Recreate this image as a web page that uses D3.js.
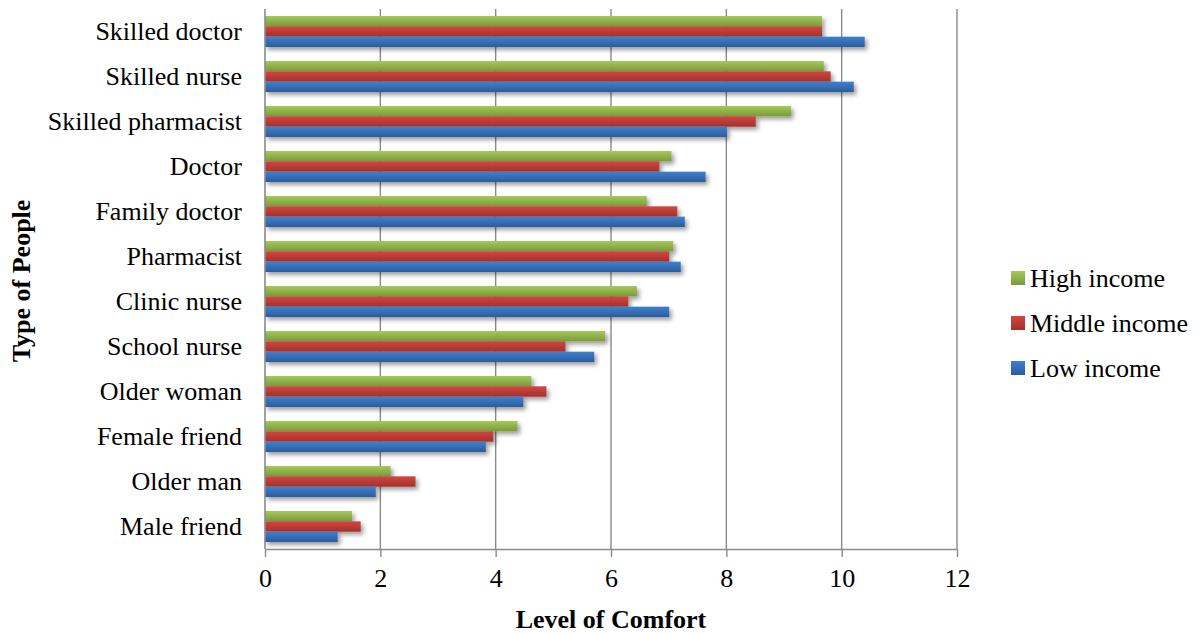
<!DOCTYPE html>
<html>
<head>
<meta charset="utf-8">
<script src="https://cdn.jsdelivr.net/npm/d3@7"></script>
<style>
  html, body { margin: 0; padding: 0; background: #fff; }
  svg { display: block; }
  svg text { font-family: "Liberation Serif", "Times New Roman", serif !important; fill: #000; }
</style>
</head>
<body>
<svg id="chart" width="1202" height="633"></svg>
<script>
// Categories listed top to bottom
const categories = [
  "Skilled doctor", "Skilled nurse", "Skilled pharmacist", "Doctor",
  "Family doctor", "Pharmacist", "Clinic nurse", "School nurse",
  "Older woman", "Female friend", "Older man", "Male friend"
];
const seriesNames = ["High income", "Middle income", "Low income"];
const highIncome   = [9.66, 9.69, 9.12, 7.05, 6.62, 7.08, 6.45, 5.90, 4.62, 4.38, 2.18, 1.51];
const middleIncome = [9.66, 9.81, 8.51, 6.84, 7.15, 7.01, 6.30, 5.21, 4.88, 3.96, 2.61, 1.66];
const lowIncome    = [10.40, 10.21, 8.01, 7.64, 7.28, 7.21, 7.01, 5.71, 4.48, 3.83, 1.92, 1.26];
const xTicks = [0, 2, 4, 6, 8, 10, 12];

const seriesValues = [highIncome, middleIncome, lowIncome];
const gradIds = ["gHigh", "gMid", "gLow"];
const gradStops = [
  ["#a4c95a", "#7b9a3c"],
  ["#d3463f", "#a3302c"],
  ["#3f80cf", "#2b5c9b"]
];
const serif = "'Liberation Serif', 'Times New Roman', serif";

const svg = d3.select("#chart");
const defs = svg.append("defs");
gradIds.forEach((id, i) => {
  const g = defs.append("linearGradient").attr("id", id)
    .attr("x1", 0).attr("y1", 0).attr("x2", 0).attr("y2", 1);
  g.append("stop").attr("offset", "0%").attr("stop-color", gradStops[i][0]);
  g.append("stop").attr("offset", "100%").attr("stop-color", gradStops[i][1]);
});
const shadow = defs.append("filter").attr("id", "shadow")
  .attr("x", "-5%").attr("y", "-40%").attr("width", "115%").attr("height", "200%");
shadow.append("feDropShadow").attr("dx", 2.5).attr("dy", 3).attr("stdDeviation", 2)
  .attr("flood-color", "#000").attr("flood-opacity", 0.38);

const plot = { left: 265, right: 957, top: 9, bottom: 549 };

const x = d3.scaleLinear().domain([0, 12]).range([plot.left, plot.right]);
const y = d3.scaleBand().domain(categories).range([plot.top, plot.bottom])
  .paddingInner(0.311).paddingOuter(0.1555);
const ySub = d3.scaleBand().domain(seriesNames).range([0, y.bandwidth()]);

// vertical gridlines
svg.append("g").selectAll("line").data(xTicks.slice(1)).join("line")
  .attr("x1", d => x(d)).attr("x2", d => x(d))
  .attr("y1", plot.top).attr("y2", plot.bottom)
  .attr("stroke", "#8a8a8a").attr("stroke-width", 1.4);

// bars
const groups = svg.append("g").selectAll("g").data(categories).join("g")
  .attr("transform", c => `translate(0,${y(c)})`);
groups.selectAll("rect")
  .data((c, ci) => seriesNames.map((s, si) => ({ s, si, v: seriesValues[si][ci] })))
  .join("rect")
  .attr("x", x(0))
  .attr("y", d => ySub(d.s))
  .attr("width", d => x(d.v) - x(0))
  .attr("height", ySub.bandwidth())
  .attr("fill", d => `url(#${gradIds[d.si]})`)
  .attr("filter", "url(#shadow)");

// x axis
const xAxis = svg.append("g").attr("transform", `translate(0,${plot.bottom})`)
  .call(d3.axisBottom(x).tickValues(xTicks).tickSize(8).tickPadding(12).tickSizeOuter(0))
  .attr("font-family", serif);
xAxis.select(".domain").attr("stroke", "#8a8a8a").attr("stroke-width", 1.6);
xAxis.selectAll(".tick line").attr("stroke", "#8a8a8a").attr("stroke-width", 1.4);
xAxis.selectAll(".tick text").style("font-size", "26px")
  .style("font-family", serif).attr("fill", "#000");

// y axis
const yAxis = svg.append("g").attr("transform", `translate(${plot.left},0)`)
  .call(d3.axisLeft(y).tickSize(0).tickPadding(23).tickSizeOuter(0))
  .attr("font-family", serif);
yAxis.select(".domain").attr("stroke", "#8a8a8a").attr("stroke-width", 1.6)
  .attr("d", `M0,${plot.top}V${plot.bottom}`);
yAxis.selectAll(".tick text").style("font-size", "26px")
  .style("font-family", serif).attr("fill", "#000");

// axis titles
svg.append("text").attr("x", (plot.left + plot.right) / 2).attr("y", 628)
  .attr("text-anchor", "middle").style("font-size", "26px").attr("font-weight", "bold")
  .text("Level of Comfort");
svg.append("text").attr("transform", `translate(30,${(plot.top + plot.bottom) / 2 + 2}) rotate(-90)`)
  .attr("text-anchor", "middle").style("font-size", "26px").attr("font-weight", "bold")
  .text("Type of People");

// legend
const legend = svg.append("g").attr("transform", "translate(1011,278)");
const items = legend.selectAll("g").data(seriesNames).join("g")
  .attr("transform", (d, i) => `translate(0,${i * 45})`);
items.append("rect").attr("x", 0).attr("y", -7).attr("width", 14).attr("height", 14)
  .attr("fill", (d, i) => `url(#${gradIds[i]})`);
items.append("text").attr("x", 19).attr("y", 0).attr("dy", "0.35em")
  .style("font-size", "26px").text(d => d);
</script>
</body>
</html>
